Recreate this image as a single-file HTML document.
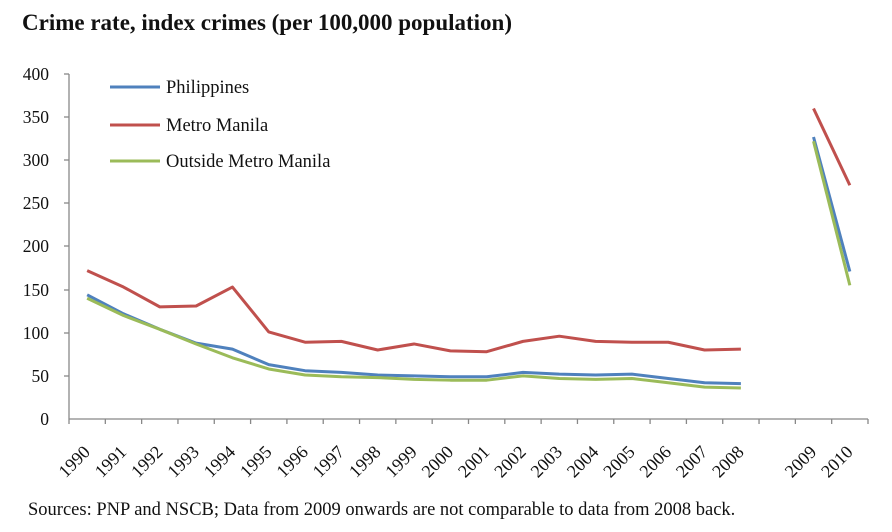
<!DOCTYPE html>
<html><head><meta charset="utf-8"><style>body{margin:0;background:#fff}svg{display:block}text{font-family:"Liberation Serif",serif;fill:#111}</style></head><body>
<svg width="892" height="532" viewBox="0 0 892 532">
<text x="22" y="30" font-size="23" font-weight="bold" textLength="490" lengthAdjust="spacing">Crime rate, index crimes (per 100,000  population)</text>
<g stroke="#888" stroke-width="1.3" fill="none">
<line x1="69" y1="74" x2="69" y2="419"/>
<line x1="69" y1="419" x2="868" y2="419"/>
<line x1="64" y1="74" x2="69" y2="74"/><line x1="64" y1="117" x2="69" y2="117"/><line x1="64" y1="160" x2="69" y2="160"/><line x1="64" y1="203" x2="69" y2="203"/><line x1="64" y1="246" x2="69" y2="246"/><line x1="64" y1="290" x2="69" y2="290"/><line x1="64" y1="333" x2="69" y2="333"/><line x1="64" y1="376" x2="69" y2="376"/>
</g>
<g font-size="17.5" text-anchor="end">
<text x="49" y="80">400</text><text x="49" y="123">350</text><text x="49" y="166">300</text><text x="49" y="209">250</text><text x="49" y="252">200</text><text x="49" y="296">150</text><text x="49" y="339">100</text><text x="49" y="382">50</text><text x="49" y="425">0</text>
</g>
<g id="xt" stroke="#888" stroke-width="1.3"></g>
<g id="xl" font-size="18" text-anchor="end"></g>
<g fill="none" stroke-width="3" stroke-linejoin="round">
<polyline id="m" stroke="#c0504d"/><polyline id="m2" stroke="#c0504d"/>
<polyline id="p" stroke="#4f81bd"/><polyline id="p2" stroke="#4f81bd"/>
<polyline id="o" stroke="#9bbb59"/><polyline id="o2" stroke="#9bbb59"/>
<line x1="110" y1="87" x2="160" y2="87" stroke="#4f81bd"/>
<line x1="110" y1="125" x2="160" y2="125" stroke="#c0504d"/>
<line x1="110" y1="161" x2="160" y2="161" stroke="#9bbb59"/>
</g>
<g font-size="18.5"><text x="166" y="93">Philippines</text><text x="166" y="131">Metro Manila</text><text x="166" y="167">Outside Metro Manila</text></g>
<text x="28" y="515" font-size="18.5">Sources: PNP and NSCB; Data from 2009 onwards are not comparable to data from 2008 back.</text>
</svg>
<script>
var s=36.318,x0=69,ns="http://www.w3.org/2000/svg";
function X(i){return x0+s/2+s*i}function Y(v){return 419-v*0.8625}
var xt=document.getElementById('xt'),xl=document.getElementById('xl');
for(var i=0;i<=22;i++){var l=document.createElementNS(ns,'line');var x=x0+s*i;l.setAttribute('x1',x);l.setAttribute('x2',x);l.setAttribute('y1',419);l.setAttribute('y2',424);xt.appendChild(l);}
var yrs=[];for(var y=1990;y<=2008;y++)yrs.push([y,y-1990]);yrs.push([2009,20]);yrs.push([2010,21]);
yrs.forEach(function(a){var t=document.createElementNS(ns,'text');var x=X(a[1])+4,yy=453;t.setAttribute('x',x);t.setAttribute('y',yy);t.setAttribute('transform','rotate(-45 '+x+' '+yy+')');t.textContent=a[0];xl.appendChild(t);});
function set(id,v,off){document.getElementById(id).setAttribute('points',v.map(function(d,i){return X(i+off)+','+Y(d)}).join(' '))}
set('m',[172,153,130,131,153,101,89,90,80,87,79,78,90,96,90,89,89,80,81],0);set('m2',[360,271],20);
set('p',[144,122,104,88,81,63,56,54,51,50,49,49,54,52,51,52,47,42,41],0);set('p2',[327,171],20);
set('o',[140,120,104,87,71,58,51,49,48,46,45,45,50,47,46,47,42,37,36],0);set('o2',[322,155],20);
</script>
</body></html>
